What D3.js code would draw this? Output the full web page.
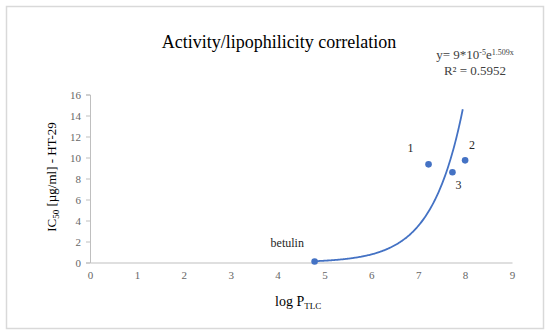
<!DOCTYPE html>
<html>
<head>
<meta charset="utf-8">
<script src="https://cdn.jsdelivr.net/npm/d3@7"></script>
<style>
  body { margin: 0; background: #fff; }
  text { font-family: "Liberation Serif", "Times New Roman", serif; }
</style>
</head>
<body>
<svg id="chart"></svg>
<script>
const width = 550;
const height = 336;

// data
const compounds = ["betulin", "1", "2", "3"];
const logP = [4.79, 7.22, 8.0, 7.73];
const ic50 = [0.1, 9.35, 9.73, 8.59];
const xTicks = [0, 1, 2, 3, 4, 5, 6, 7, 8, 9];
const yTicks = [0, 2, 4, 6, 8, 10, 12, 14, 16];
// exponential trend y = a*e^(b*x), as given on the chart
const trendCoef = [9e-5, 1.509];
const trendRange = [4.79, 7.96];

const svg = d3.select("#chart")
  .attr("width", width)
  .attr("height", height);

svg.append("rect")
  .attr("x", 6.5).attr("y", 6.5)
  .attr("width", 537).attr("height", 322)
  .attr("fill", "white")
  .attr("stroke", "#d9d9d9")
  .attr("stroke-width", 1.5);

const x = d3.scaleLinear().domain([0, 9]).range([90, 512]);
const y = d3.scaleLinear().domain([0, 16]).range([262.5, 94.5]);

// axes
const xAxis = svg.append("g")
  .attr("transform", `translate(0,${y(0)})`)
  .call(d3.axisBottom(x).tickValues(xTicks).tickSize(0).tickPadding(9));
const yAxis = svg.append("g")
  .attr("transform", `translate(${x(0)},0)`)
  .call(d3.axisLeft(y).tickValues(yTicks).tickSize(4).tickPadding(5));

[xAxis, yAxis].forEach(g => {
  g.select(".domain").attr("stroke", "#bfbfbf");
  g.selectAll(".tick line").attr("stroke", "#bfbfbf");
  g.selectAll(".tick text")
    .attr("fill", "#666")
    .style("font-family", "'Liberation Serif', serif")
    .style("font-size", "11px");
});

// title
svg.append("text")
  .attr("x", 279).attr("y", 48)
  .attr("text-anchor", "middle")
  .style("font-size", "18px")
  .text("Activity/lipophilicity correlation");

// equation
const eq = svg.append("text")
  .attr("x", 475).attr("y", 59)
  .attr("text-anchor", "middle")
  .attr("fill", "#404040")
  .style("font-size", "13px");
eq.append("tspan").text("y= 9*10");
eq.append("tspan").attr("dy", -4).style("font-size", "8px").text("-5");
eq.append("tspan").attr("dy", 4).text("e");
eq.append("tspan").attr("dy", -4).style("font-size", "8px").text("1.509x");

svg.append("text")
  .attr("x", 475).attr("y", 75)
  .attr("text-anchor", "middle")
  .attr("fill", "#404040")
  .style("font-size", "13px")
  .text("R² = 0.5952");

// axis titles
const yt = svg.append("text")
  .attr("transform", `translate(56,177) rotate(-90)`)
  .attr("text-anchor", "middle")
  .style("font-size", "13px");
yt.append("tspan").text("IC");
yt.append("tspan").attr("dy", 3).style("font-size", "9px").text("50");
yt.append("tspan").attr("dy", -3).text(" [µg/ml] - HT-29");

const xt = svg.append("text")
  .attr("x", 275).attr("y", 306)
  .style("font-size", "14px");
xt.append("tspan").text("log P");
xt.append("tspan").attr("dy", 3).style("font-size", "9px").text("TLC");

// trendline
const trendX = d3.range(trendRange[0], trendRange[1] + 0.001, 0.02);
const line = d3.line()
  .x(d => x(d))
  .y(d => y(trendCoef[0] * Math.exp(trendCoef[1] * d)))
  .curve(d3.curveMonotoneX);
svg.append("path")
  .datum(trendX)
  .attr("d", line)
  .attr("fill", "none")
  .attr("stroke", "#4472c4")
  .attr("stroke-width", 1.8);

// points
svg.append("g")
  .selectAll("circle")
  .data(compounds.map((c, i) => ({ c, x: logP[i], y: ic50[i] })))
  .join("circle")
  .attr("cx", d => x(d.x))
  .attr("cy", d => y(d.y))
  .attr("r", 3.3)
  .attr("fill", "#4472c4");

// point labels
const labelOffset = { "betulin": [-44, -14], "1": [-21, -12], "2": [4, -11], "3": [3, 17] };
svg.append("g")
  .selectAll("text")
  .data(compounds.map((c, i) => ({ c, x: logP[i], y: ic50[i] })))
  .join("text")
  .attr("x", d => x(d.x) + labelOffset[d.c][0])
  .attr("y", d => y(d.y) + labelOffset[d.c][1])
  .attr("fill", "#262626")
  .style("font-size", "12px")
  .text(d => d.c);
</script>
</body>
</html>
